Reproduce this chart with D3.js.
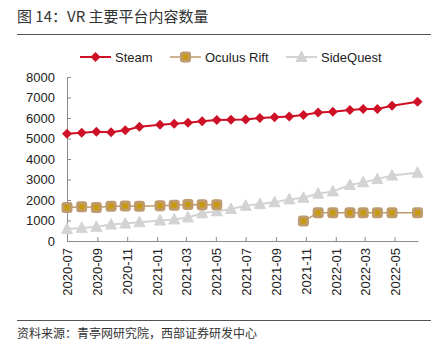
<!DOCTYPE html>
<html><head><meta charset="utf-8">
<script src="https://cdn.jsdelivr.net/npm/d3@7/dist/d3.min.js"></script>
<style>
html,body{margin:0;padding:0;background:#fff;}
svg{display:block;}
text{font-family:"Liberation Sans",Arial,"Noto Sans CJK SC",sans-serif;}
</style></head>
<body>
<svg id="chart" width="445" height="357"></svg>
<script>
const title = "图 14：VR 主要平台内容数量";
const source = "资料来源：青亭网研究院，西部证券研发中心";
const seriesNames = ["Steam", "Oculus Rift", "SideQuest"];
const dates = ["2020-07-01","2020-07-31","2020-08-30","2020-09-29","2020-10-28","2020-11-26",
  "2021-01-07","2021-02-05","2021-03-05","2021-04-03","2021-05-03","2021-06-01",
  "2021-07-01","2021-07-30","2021-08-29","2021-09-28","2021-10-27","2021-11-26",
  "2021-12-26","2022-01-30","2022-02-26","2022-03-27","2022-04-26","2022-06-17"];
const steam = [5230,5280,5330,5310,5400,5570,5670,5720,5770,5840,5900,5920,
  5930,6000,6040,6070,6150,6270,6310,6390,6440,6440,6600,6790];
const oculus = [1630,1670,1640,1700,1710,1700,1720,1740,1780,1770,1770,null,
  null,null,null,null,970,1380,1380,1380,1380,1380,1380,1380];
const sidequest = [580,640,690,800,850,920,1000,1050,1150,1350,1450,1560,
  1720,1800,1890,2030,2110,2310,2420,2730,2860,3020,3190,3330];
const yTicks = [0,1000,2000,3000,4000,5000,6000,7000,8000];
const xDomain = ["2020-07-01","2022-06-18"];

const parse = d3.timeParse("%Y-%m-%d");
const svg = d3.select("#chart");
const C = {steam:"#CE1126", tan:"#BF9A6C", gold:"#C89A04", gray:"#D3D3D3", axis:"#8C8C8C", text:"#222"};

// title + rules
svg.append("text").attr("x",17).attr("y",22).attr("font-size",15).attr("fill","#333")
  .style("font-family","'Noto Sans CJK SC',sans-serif").text(title);
svg.append("line").attr("x1",17).attr("x2",431).attr("y1",34.5).attr("y2",34.5).attr("stroke","#555").attr("stroke-width",1);
svg.append("line").attr("x1",17).attr("x2",431).attr("y1",320.5).attr("y2",320.5).attr("stroke","#555").attr("stroke-width",1);
svg.append("text").attr("x",17).attr("y",338).attr("font-size",12).attr("fill","#333")
  .style("font-family","'Noto Sans CJK SC',sans-serif").text(source);

const x = d3.scaleTime().domain(xDomain.map(parse)).range([67,418]);
const y = d3.scaleLinear().domain([0,8000]).range([241,77]);

// axes
const yAx = svg.append("g").attr("transform","translate(67,0)")
  .call(d3.axisLeft(y).tickValues(yTicks).tickFormat(d3.format("d")).tickSizeInner(-4).tickSizeOuter(0).tickPadding(12));
const xAx = svg.append("g").attr("transform","translate(0,241)")
  .call(d3.axisBottom(x).ticks(d3.timeMonth.every(2)).tickFormat(d3.timeFormat("%Y-%m")).tickSizeInner(-4).tickSizeOuter(0));
[yAx,xAx].forEach(g=>{
  g.selectAll("path,line").attr("stroke",C.axis);
  g.selectAll("text").attr("font-size",13).attr("fill",C.text);
});
xAx.selectAll("text").attr("x",0).attr("y",0).attr("dy","0.35em")
  .attr("text-anchor","end").attr("transform","translate(0,7) rotate(-90)");

const pts = arr => arr.map((v,i)=>({d:parse(dates[i]), v}));
const line = d3.line().defined(p=>p.v!=null).x(p=>x(p.d)).y(p=>y(p.v));

function diamond(g, cx, cy, r){
  g.append("path").attr("d",`M${cx},${cy-r}L${cx+r},${cy}L${cx},${cy+r}L${cx-r},${cy}Z`).attr("fill",C.steam);
}
function square(g, cx, cy){
  g.append("rect").attr("x",cx-4).attr("y",cy-4).attr("width",8).attr("height",8).attr("rx",1.5)
    .attr("fill",C.gold).attr("stroke",C.tan).attr("stroke-width",3);
}
function tri(g, cx, cy){
  g.append("path").attr("d",`M${cx},${cy-6}L${cx+5.5},${cy+4.5}L${cx-5.5},${cy+4.5}Z`)
    .attr("fill",C.gray).attr("stroke",C.gray).attr("stroke-width",1).attr("stroke-linejoin","round");
}

// SideQuest
const gS = svg.append("g");
gS.append("path").datum(pts(sidequest)).attr("d",line).attr("fill","none").attr("stroke",C.gray).attr("stroke-width",2);
pts(sidequest).forEach(p=>tri(gS, x(p.d), y(p.v)));
// Oculus
const gO = svg.append("g");
gO.append("path").datum(pts(oculus)).attr("d",line).attr("fill","none").attr("stroke",C.tan).attr("stroke-width",1.5);
pts(oculus).filter(p=>p.v!=null).forEach(p=>square(gO, x(p.d), y(p.v)));
// Steam
const gT = svg.append("g");
gT.append("path").datum(pts(steam)).attr("d",line).attr("fill","none").attr("stroke",C.steam).attr("stroke-width",2);
pts(steam).forEach(p=>diamond(gT, x(p.d), y(p.v), 5));

// legend
const legX = [80,170,286], legY = 57;
const legColors = [C.steam, C.tan, C.gray];
seriesNames.forEach((n,i)=>{
  const g = svg.append("g");
  g.append("line").attr("x1",legX[i]).attr("x2",legX[i]+31).attr("y1",legY).attr("y2",legY)
    .attr("stroke",legColors[i]).attr("stroke-width",i===1?1.5:2);
  const cx = legX[i]+15.5;
  if(i===0) diamond(g,cx,legY,5);
  else if(i===1) square(g,cx,legY);
  else tri(g,cx,legY);
  g.append("text").attr("x",legX[i]+35).attr("y",legY).attr("dy","0.35em").attr("font-size",13).attr("fill",C.text).text(n);
});
</script>
</body></html>
